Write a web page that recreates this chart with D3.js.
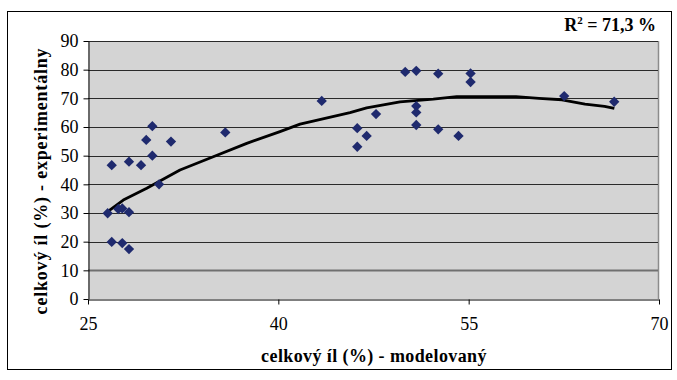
<!DOCTYPE html>
<html><head><meta charset="utf-8">
<script src="https://cdn.jsdelivr.net/npm/d3@7"></script>
<style>body{margin:0;background:#fff}svg{display:block}</style>
</head><body>
<svg id="c" width="677" height="380"></svg>
<script>
// data
const modelX = [26.55,26.87,26.87,27.39,27.70,28.23,27.70,28.23,28.23,29.18,29.59,30.07,30.07,30.6,31.54,35.82,
  43.42,46.22,46.96,46.22,47.70,50.0,50.87,50.87,50.87,50.87,52.6,52.6,54.2,55.15,55.15,62.53,66.47];
const expY = [29.9,46.7,19.9,31.4,31.6,30.3,19.5,17.4,47.9,46.7,55.5,60.3,50.0,40.0,54.9,58.1,
  69.1,59.6,56.9,53.1,64.5,79.2,79.6,67.3,65.1,60.7,78.6,59.2,56.9,78.7,75.7,70.8,68.8];
const trendX = [26.5,27.78,29.63,32.25,34.87,37.51,40.13,41.71,45.65,46.96,49.59,52.21,54.06,57.47,58.73,60.54,62.35,64.17,65.71,66.48];
const trendY = [30.3,34.5,38.6,45.0,49.6,54.3,58.4,61.0,65.0,66.7,68.8,69.7,70.6,70.6,70.6,70.0,69.5,68.0,67.2,66.5];
const xTicks = [25,40,55,70];
const yTicks = [0,10,20,30,40,50,60,70,80,90];
const xTitle = "celkový íl (%) - modelovaný";
const yTitle = "celkový íl (%) - experimentálny";

const svg = d3.select("#c");
const L=88, R=659, T=41, B=299;
const x = d3.scaleLinear().domain([25,70]).range([L,R]);
const y = d3.scaleLinear().domain([0,90]).range([B,T]);
const font = "'Liberation Serif','Times New Roman',serif";

svg.append("rect").attr("x",7.5).attr("y",11.5).attr("width",664).attr("height",358)
  .attr("fill","#fff").attr("stroke","#000").attr("stroke-width",1);

svg.append("rect").attr("x",L).attr("y",T).attr("width",R-L).attr("height",B-T).attr("fill","#d4d4d4");
svg.append("line").attr("x1",R-0.5).attr("x2",R-0.5).attr("y1",T).attr("y2",B).attr("stroke","#8c8c8c").attr("stroke-width",1.5);

// gridlines
svg.append("g").selectAll("line").data(yTicks.filter(d=>d>0)).join("line")
  .attr("x1",L).attr("x2",R-1).attr("y1",d=>Math.round(y(d))+0.5).attr("y2",d=>Math.round(y(d))+0.5)
  .attr("stroke",d=>d===10?"#707070":"#2a2a2a").attr("stroke-width",d=>d===10?2:1);

// axes
const gx = svg.append("g").attr("transform",`translate(0,${B+0.5})`)
  .call(d3.axisBottom(x).tickValues(xTicks).tickSize(5).tickPadding(13).tickSizeOuter(0));
const gy = svg.append("g").attr("transform",`translate(${L+0.5},0)`)
  .call(d3.axisLeft(y).tickValues(yTicks).tickSize(5).tickPadding(5).tickSizeOuter(0));
[gx,gy].forEach(g=>{
  g.select(".domain").attr("stroke","#000").attr("stroke-width",1);
  g.selectAll(".tick line").attr("stroke","#000");
  g.selectAll("text").attr("font-family",font).attr("font-size",18).attr("fill","#000");
});

// trend line
svg.append("path").datum(trendX.map((v,i)=>[v,trendY[i]]))
  .attr("d",d3.line().x(d=>x(d[0])).y(d=>y(d[1])))
  .attr("fill","none").attr("stroke","#000").attr("stroke-width",2.8).attr("stroke-linejoin","round");

// points
const sym = d3.symbol().type(d3.symbolDiamond2).size(68);
svg.append("g").selectAll("path").data(modelX.map((v,i)=>[v,expY[i]])).join("path")
  .attr("d",sym).attr("transform",d=>`translate(${x(d[0])},${y(d[1])})`)
  .attr("fill","#1f2a6e");

// titles
svg.append("text").attr("x",374).attr("y",362).attr("text-anchor","middle")
  .attr("font-family",font).attr("font-size",18).attr("letter-spacing",0.4).attr("font-weight","bold").text(xTitle);
svg.append("text").attr("transform",`translate(47,181) rotate(-90)`).attr("text-anchor","middle")
  .attr("font-family",font).attr("font-size",18).attr("letter-spacing",0.8).attr("font-weight","bold").text(yTitle);

const r2 = svg.append("text").attr("x",656).attr("y",31).attr("text-anchor","end")
  .attr("font-family",font).attr("font-size",18).attr("font-weight","bold");
r2.append("tspan").text("R");
r2.append("tspan").attr("dy",-7).attr("font-size",11).text("2");
r2.append("tspan").attr("dy",7).text(" = 71,3 %");
</script>
</body></html>
